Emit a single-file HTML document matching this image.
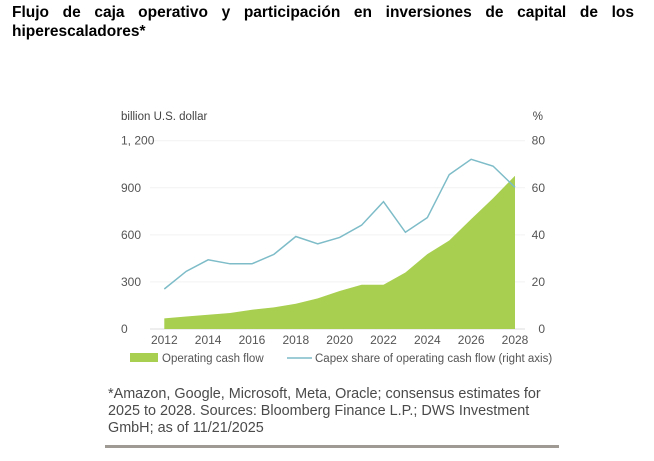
<!DOCTYPE html>
<html><head><meta charset="utf-8"><style>
body{margin:0;width:654px;height:461px;background:#fff;overflow:hidden;font-family:"Liberation Sans",sans-serif}
#title{position:absolute;left:12px;top:3px;width:622px;font-weight:bold;font-size:15.5px;line-height:19px;text-align:justify;text-align-last:left;color:#000}
#note{position:absolute;left:108px;top:386px;width:452px;font-size:14.4px;line-height:17px;color:#4a4a4a}
#rule{position:absolute;left:105px;top:445px;width:454px;height:3px;background:#a09a95}
svg{position:absolute;left:0;top:0}
</style></head><body>
<div id="title">Flujo de caja operativo y participación en inversiones de capital de los hiperescaladores*</div>
<svg width="654" height="461" id="chart"></svg>
<div id="note">*Amazon, Google, Microsoft, Meta, Oracle; consensus estimates for<br>2025 to 2028. Sources: Bloomberg Finance L.P.; DWS Investment<br>GmbH; as of 11/21/2025</div>
<div id="rule"></div>
<script>
const years=[2012,2013,2014,2015,2016,2017,2018,2019,2020,2021,2022,2023,2024,2025,2026,2027,2028];
const ocf=[68,80,91,102,123,138,161,195,242,282,282,360,477,564,700,833,977];
const capexShare=[17,24.5,29.4,27.7,27.7,31.7,39.3,36.2,38.9,44.1,54.1,41.1,47.3,65.6,72.1,69.2,60.2];
const leftTicks=[0,300,600,900,1200];
const leftLabels=["0","300","600","900","1, 200"];
const rightTicks=[0,20,40,60,80];
const xTicks=[2012,2014,2016,2018,2020,2022,2024,2026,2028];
const svg=document.getElementById('chart');const NS='http://www.w3.org/2000/svg';
const x=v=>164.3+(v-2012)*(515-164.3)/16;
const yL=v=>329-v*(329-140.7)/1200;
const yR=v=>329-v*(329-140.7)/80;
function mk(t,a,txt){const e=document.createElementNS(NS,t);for(const k in a)e.setAttribute(k,a[k]);if(txt!==undefined)e.textContent=txt;svg.appendChild(e);return e;}
leftTicks.forEach((v,i)=>{
 const g=mk('line',{x1:150,x2:525,y1:yL(v),y2:yL(v),stroke:i==0?'#ddd':'#f2f2f2','stroke-width':1});
 
 const t=mk('text',{x:121,y:yL(v)+4,'font-size':12,fill:'#555'},leftLabels[i]);
 
});
rightTicks.forEach(v=>{
 const t=mk('text',{x:545,y:yR(v)+4,'font-size':12,fill:'#555','text-anchor':'end'},String(v));
 
});
xTicks.forEach(v=>{
 const t=mk('text',{x:x(v),y:344,'font-size':12,fill:'#555','text-anchor':'middle'},String(v));
 
});
let t=mk('text',{x:121,y:120,'font-size':11.5,fill:'#444'},'billion U.S. dollar');

t=mk('text',{x:543,y:120,'font-size':11.5,fill:'#444','text-anchor':'end'},'%');

let d='M'+x(years[0])+','+yL(0);
years.forEach((yr,i)=>{d+=' L'+x(yr)+','+yL(ocf[i]);});
d+=' L'+x(years[years.length-1])+','+yL(0)+' Z';
const area=mk('path',{d:d,fill:'#a8cf4f'});

const pts=years.map((yr,i)=>x(yr)+','+yR(capexShare[i])).join(' ');
const line=mk('polyline',{points:pts,fill:'none',stroke:'#7dbcc8','stroke-width':1.5});

let r=mk('rect',{x:130,y:353,width:28,height:9,fill:'#a8cf4f'});

t=mk('text',{x:162,y:362,'font-size':11.5,fill:'#555'},'Operating cash flow');

let l=mk('line',{x1:287,x2:312,y1:358,y2:358,stroke:'#7dbcc8','stroke-width':1.5});

t=mk('text',{x:315,y:362,'font-size':11.5,fill:'#555'},'Capex share of operating cash flow (right axis)');

</script>
</body></html>
